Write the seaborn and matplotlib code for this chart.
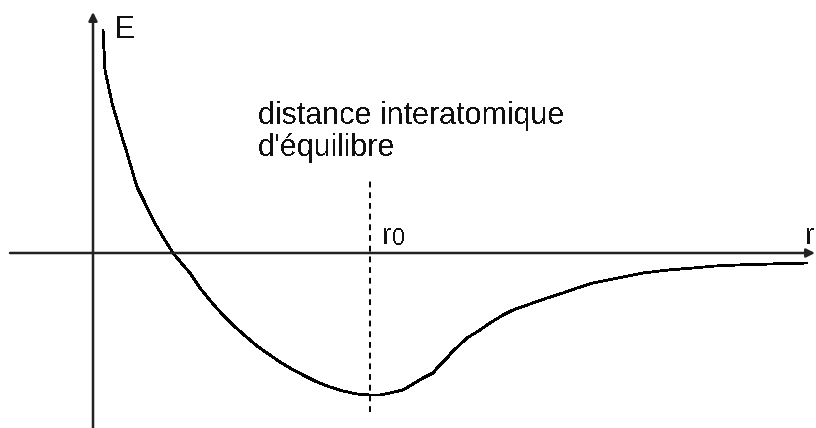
import matplotlib
matplotlib.use("Agg")
import matplotlib.pyplot as plt
import seaborn as sns
import pandas as pd

# Potential energy E as a function of interatomic distance r (arbitrary units)
r_values = [0.10, 0.12, 0.19, 0.24, 0.29, 0.34, 0.39, 0.44, 0.52, 0.60, 0.70,
            0.80, 0.90, 0.97, 1.07, 1.20, 1.30, 1.40, 1.50, 1.64, 1.74, 1.87,
            1.97, 2.10, 2.24, 2.37, 2.50, 2.64, 2.77, 2.87, 2.97, 3.10, 3.20,
            3.30, 3.40, 3.45, 3.54, 3.59, 3.74, 3.87, 3.97, 4.10, 4.20, 4.37,
            4.54, 4.70, 4.84, 5.00, 5.25, 5.50, 5.75, 6.00, 6.22, 6.44, 6.77,
            7.14]
E_values = [2.23, 1.83, 1.50, 1.33, 1.16, 1.00, 0.83, 0.66, 0.50, 0.33, 0.16,
            0.00, -0.12, -0.20, -0.35, -0.51, -0.62, -0.72, -0.81, -0.93, -1.00, -1.09,
            -1.15, -1.22, -1.29, -1.34, -1.38, -1.41, -1.42, -1.42, -1.40, -1.37, -1.31,
            -1.25, -1.20, -1.14, -1.05, -0.99, -0.85, -0.77, -0.70, -0.62, -0.57, -0.51,
            -0.45, -0.40, -0.35, -0.30, -0.25, -0.20, -0.17, -0.15, -0.13, -0.12, -0.11,
            -0.10]
r0 = 2.77  # equilibrium distance

axis_label_E = "E"
axis_label_r = "r"
annotation = "distance interatomique\nd'équilibre"

sns.set_style("white")
plt.rcParams["font.family"] = ["Liberation Sans", "DejaVu Sans"]
plt.rcParams["text.antialiased"] = False

df = pd.DataFrame({"r": r_values, "E": E_values})

fig = plt.figure(figsize=(8.16, 4.28), dpi=100)
ax = fig.add_axes([0, 0, 1, 1])
ax.set_xlim(-0.93, 7.23)
ax.set_ylim(-1.75, 2.53)
ax.axis("off")

# Energy curve
sns.lineplot(data=df, x="r", y="E", ax=ax, color="black", linewidth=1.3,
             sort=False, antialiased=False)

# Coordinate axes with arrowheads
axis_color = "#222222"
ax.annotate("", xy=(7.22, 0), xytext=(-0.83, 0),
            arrowprops=dict(arrowstyle="-|>,head_length=0.5,head_width=0.25",
                            color=axis_color, lw=1.8, shrinkA=0, shrinkB=0))
ax.annotate("", xy=(0, 2.41), xytext=(0, -1.75),
            arrowprops=dict(arrowstyle="-|>,head_length=0.5,head_width=0.25",
                            color=axis_color, lw=1.8, shrinkA=0, shrinkB=0))

# Equilibrium distance marker
ax.plot([r0, r0], [-1.59, 0.73], color="black", linewidth=1.4,
        linestyle=(0, (3, 2.5)))

ax.text(0.21, 2.38, axis_label_E, fontsize=23, color="#111111",
        ha="left", va="top")
ax.text(7.12, 0.31, axis_label_r, fontsize=21, color="#111111",
        ha="left", va="top")
ax.text(2.89, 0.31, "r", fontsize=21, color="#111111", ha="left", va="top")
ax.text(2.99, 0.25, "0", fontsize=17, color="#111111", ha="left", va="top")
ax.text(1.65, 1.52, annotation, fontsize=22, color="#111111",
        ha="left", va="top", linespacing=1.1)

fig.savefig("out.png", dpi=100, facecolor="white")
